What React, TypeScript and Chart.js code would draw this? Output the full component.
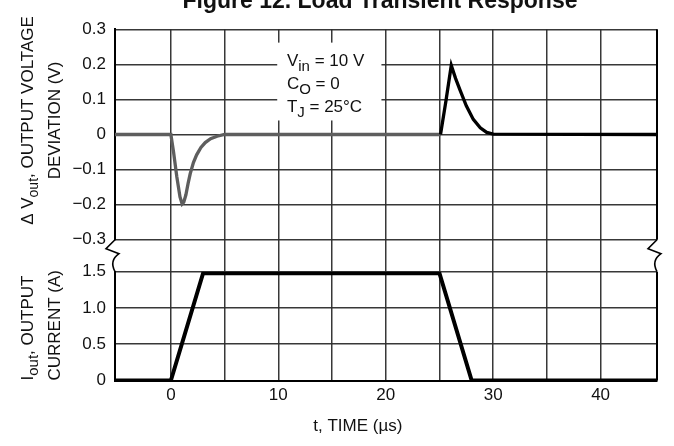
import React, { useEffect, useRef } from 'react';
import { Chart, registerables } from 'chart.js';

Chart.register(...registerables);

const FONT = "'Liberation Sans', Arial, Helvetica, sans-serif";
const INK = '#111111';
const GRID = 'rgba(45,45,45,0.95)';

const chartTitle = 'Figure 12. Load Transient Response';
const xAxisTitle = 't, TIME (µs)';

// Upper panel: output voltage deviation (V) against time (µs)
const voltageTime = [-5.2, 0, 0.25, 0.55, 0.85, 1.05, 1.2, 1.4, 1.6, 1.8, 2.1, 2.4, 2.8, 3.2, 3.7, 4.3, 5.0,
  25.1, 25.6, 26.1, 26.5, 26.9, 27.5, 28.15, 28.8, 29.4, 30.0, 45.25];
const voltageValue = [0, 0, -0.05, -0.12, -0.178, -0.198, -0.193, -0.172, -0.14, -0.112, -0.08, -0.058, -0.037, -0.023, -0.012, -0.005, 0,
  0, 0.095, 0.197, 0.16, 0.128, 0.082, 0.043, 0.019, 0.006, 0.001, 0];

// Lower panel: output current (A) against time (µs)
const currentTime = [-5.2, 0, 3, 25, 28, 45.25];
const currentValue = [0, 0, 1.48, 1.48, 0, 0];

// Axis ticks
const xGridValues = [0, 5, 10, 15, 20, 25, 30, 35, 40];
const xLabelValues = [0, 10, 20, 30, 40];
const voltageTicks = [-0.3, -0.2, -0.1, 0, 0.1, 0.2, 0.3];
const voltageTickLabels = ['\u22120.3', '\u22120.2', '\u22120.1', '0', '0.1', '0.2', '0.3'];
const currentTicks = [0, 0.5, 1.0, 1.5];
const currentTickLabels = ['0', '0.5', '1.0', '1.5'];

type Part = { t: string; sub?: boolean };

const voltageAxisTitle: Part[][] = [
  [{ t: '\u0394 V' }, { t: 'out', sub: true }, { t: ', OUTPUT VOLTAGE' }],
  [{ t: 'DEVIATION (V)' }],
];
const currentAxisTitle: Part[][] = [
  [{ t: 'I' }, { t: 'out', sub: true }, { t: ', OUTPUT' }],
  [{ t: 'CURRENT (A)' }],
];
const conditionLines: Part[][] = [
  [{ t: 'V' }, { t: 'in', sub: true }, { t: ' = 10 V' }],
  [{ t: 'C' }, { t: 'O', sub: true }, { t: ' = 0' }],
  [{ t: 'T' }, { t: 'J', sub: true }, { t: ' = 25\u00B0C' }],
];
// placement of the conditions note, in data units (µs, V)
const noteBox = { x0: 9.9, x1: 19.6, y0: 0.262, y1: 0.04 };
const noteTextX = 10.8;
const noteBaselines = [0.195, 0.13, 0.064];

const MAIN = 17;
const SUB = 14;

function richWidth(ctx: CanvasRenderingContext2D, parts: Part[], size: number, sub: number) {
  let w = 0;
  for (const p of parts) {
    ctx.font = `${p.sub ? sub : size}px ${FONT}`;
    w += ctx.measureText(p.t).width;
  }
  return w;
}

function drawRich(ctx: CanvasRenderingContext2D, parts: Part[], x: number, y: number, size: number, sub: number, shift: number) {
  let cx = x;
  for (const p of parts) {
    ctx.font = `${p.sub ? sub : size}px ${FONT}`;
    ctx.fillText(p.t, cx, y + (p.sub ? shift : 0));
    cx += ctx.measureText(p.t).width;
  }
}

function zigzag(ctx: CanvasRenderingContext2D, X: number, T: number, B: number) {
  ctx.beginPath();
  ctx.moveTo(X, T);
  ctx.lineTo(X - 9, T + 9);
  ctx.lineTo(X + 4, T + 14);
  ctx.quadraticCurveTo(X - 6, T + 21, X, B);
  ctx.stroke();
}

const decorPlugin = {
  id: 'decor',
  beforeDatasetsDraw(chart: any) {
    const { ctx, scales } = chart;
    const x = scales.x;
    const yV = scales.yV;
    const l = x.getPixelForValue(noteBox.x0);
    const r = x.getPixelForValue(noteBox.x1);
    const t = yV.getPixelForValue(noteBox.y0);
    const b = yV.getPixelForValue(noteBox.y1);
    ctx.save();
    ctx.fillStyle = '#ffffff';
    ctx.fillRect(l, t, r - l, b - t);
    ctx.restore();
  },
  afterDraw(chart: any) {
    const { ctx, scales, chartArea } = chart;
    const x = scales.x;
    const yV = scales.yV;
    const yI = scales.yI;
    ctx.save();
    ctx.fillStyle = INK;
    ctx.strokeStyle = '#000';
    ctx.textAlign = 'left';
    ctx.textBaseline = 'alphabetic';

    // right border segments
    ctx.lineWidth = 2;
    ctx.beginPath();
    ctx.moveTo(chartArea.right, yV.top);
    ctx.lineTo(chartArea.right, yV.bottom);
    ctx.moveTo(chartArea.right, yI.top);
    ctx.lineTo(chartArea.right, yI.bottom);
    ctx.stroke();

    // axis breaks
    ctx.lineWidth = 1.6;
    zigzag(ctx, chartArea.left, yV.bottom, yI.top);
    zigzag(ctx, chartArea.right, yV.bottom, yI.top);

    // title (partly cut at the top edge, as in the reference)
    ctx.font = `bold 23px ${FONT}`;
    ctx.textAlign = 'center';
    ctx.fillText(chartTitle, 380, 8);

    // x axis title
    ctx.font = `${MAIN}px ${FONT}`;
    ctx.fillText(xAxisTitle, x.getPixelForValue(17.4), chartArea.bottom + 50);
    ctx.textAlign = 'left';

    // conditions note
    conditionLines.forEach((parts, i) => {
      drawRich(ctx, parts, x.getPixelForValue(noteTextX), yV.getPixelForValue(noteBaselines[i]), MAIN, SUB + 1, 5);
    });

    // rotated y axis titles
    const baseX = [chartArea.left - 82, chartArea.left - 55];
    const vCenter = (yV.top + yV.bottom) / 2 - 14;
    voltageAxisTitle.forEach((parts, i) => {
      const w = richWidth(ctx, parts, MAIN, SUB);
      ctx.save();
      ctx.translate(baseX[i], vCenter);
      ctx.rotate(-Math.PI / 2);
      drawRich(ctx, parts, -w / 2, 0, MAIN, SUB, 5);
      ctx.restore();
    });
    currentAxisTitle.forEach((parts, i) => {
      ctx.save();
      ctx.translate(baseX[i], yI.bottom);
      ctx.rotate(-Math.PI / 2);
      drawRich(ctx, parts, 0, 0, MAIN, SUB + 1, 5);
      ctx.restore();
    });
    ctx.restore();
  },
};

const tickFont = { family: FONT, size: MAIN };

export default function App() {
  const canvasRef = useRef<HTMLCanvasElement | null>(null);

  useEffect(() => {
    if (!canvasRef.current) return;
    const chart = new Chart(canvasRef.current, {
      type: 'line',
      data: {
        datasets: [
          {
            label: '\u0394Vout',
            data: voltageTime.map((t, i) => ({ x: t, y: voltageValue[i] })),
            yAxisID: 'yV',
            borderColor: '#000',
            borderWidth: 3.3,
            pointRadius: 0,
            tension: 0,
            segment: {
              borderColor: (c: any) => (c.p0.parsed.x < 20 ? '#5e5e5e' : '#000'),
            },
          },
          {
            label: 'Iout',
            data: currentTime.map((t, i) => ({ x: t, y: currentValue[i] })),
            yAxisID: 'yI',
            borderColor: '#000',
            borderWidth: 4,
            pointRadius: 0,
            tension: 0,
          },
        ],
      },
      options: {
        animation: false,
        responsive: true,
        maintainAspectRatio: false,
        layout: { padding: { top: 29.3, left: 71, right: 17, bottom: 25.5 } },
        plugins: {
          legend: { display: false },
          tooltip: { enabled: false },
          title: { display: false },
        },
        scales: {
          x: {
            type: 'linear',
            min: -5.2,
            max: 45.25,
            afterBuildTicks: (s: any) => {
              s.ticks = xGridValues.map((v) => ({ value: v }));
            },
            afterFit: (s: any) => {
              s.height = 40;
            },
            grid: { color: GRID, lineWidth: 1.5, drawTicks: false },
            border: { color: '#000', width: 2 },
            ticks: {
              padding: 5,
              font: tickFont,
              color: INK,
              autoSkip: false,
              maxRotation: 0,
              callback: (v: any) => (xLabelValues.includes(Number(v)) ? String(v) : ''),
            },
          },
          yI: {
            type: 'linear',
            position: 'left',
            stack: 'panels',
            stackWeight: 108.8,
            min: 0,
            max: 1.5,
            afterBuildTicks: (s: any) => {
              s.ticks = currentTicks.map((v) => ({ value: v }));
            },
            afterFit: (s: any) => {
              s.width = 44;
            },
            grid: { color: GRID, lineWidth: 1.5, drawTicks: false },
            border: { color: '#000', width: 2 },
            ticks: {
              padding: 9,
              font: tickFont,
              color: INK,
              autoSkip: false,
              callback: (_v: any, i: number) => currentTickLabels[i],
            },
          },
          yGap: {
            type: 'linear',
            position: 'left',
            stack: 'panels',
            stackWeight: 32,
            min: 0,
            max: 1,
            afterFit: (s: any) => {
              s.width = 44;
            },
            grid: { display: false },
            border: { display: false },
            ticks: { display: false },
          },
          yV: {
            type: 'linear',
            position: 'left',
            stack: 'panels',
            stackWeight: 210.4,
            min: -0.3,
            max: 0.3,
            afterBuildTicks: (s: any) => {
              s.ticks = voltageTicks.map((v) => ({ value: v }));
            },
            afterFit: (s: any) => {
              s.width = 44;
            },
            grid: { color: GRID, lineWidth: 1.5, drawTicks: false },
            border: { color: '#000', width: 2 },
            ticks: {
              padding: 9,
              font: tickFont,
              color: INK,
              autoSkip: false,
              callback: (_v: any, i: number) => voltageTickLabels[i],
            },
          },
        },
      } as any,
      plugins: [decorPlugin],
    });
    return () => chart.destroy();
  }, []);

  return (
    <div style={{ position: 'absolute', left: 0, top: 0, width: 674, height: 446, background: '#fff' }}>
      <canvas ref={canvasRef} />
    </div>
  );
}
